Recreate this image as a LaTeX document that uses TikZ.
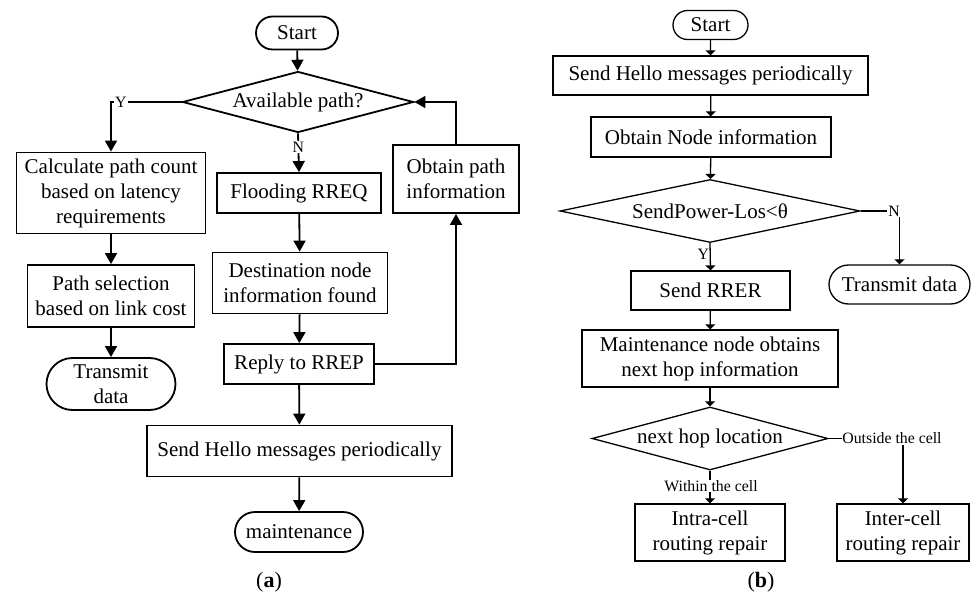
\documentclass[tikz,border=0pt]{standalone}
\usepackage{fontspec}
\setmainfont{Liberation Serif}
\usetikzlibrary{shapes,arrows.meta,positioning}

\begin{document}
\begin{tikzpicture}[x=1pt, y=-1pt,
    box/.style={draw, rectangle, align=center, inner sep=0pt, font=\fontsize{21}{25}\selectfont},
    term/.style={draw, rounded rectangle, align=center, inner sep=0pt, font=\fontsize{21}{25}\selectfont},
    decide/.style={draw, diamond, aspect=3.8, inner sep=0pt, font=\fontsize{21}{25}\selectfont},
    lbl/.style={fill=white, inner sep=1pt, font=\fontsize{15.8}{18}\selectfont},
    arra/.style={-{Triangle[length=11pt,width=12pt]}},
    arrb/.style={-{Triangle[length=5pt,width=10pt]}},
    subcap/.style={font=\fontsize{22}{25}\selectfont}
]
    \useasboundingbox (0,0) rectangle (971,599);

    % Flowchart (a): route discovery
    \begin{scope}[line width=1.8pt]
        \node[term, minimum width=82pt, minimum height=33pt] (startA) at (297,33) {Start};
        \node[decide, minimum width=231pt, minimum height=61pt] (avail) at (298,102) {Available path?};
        \node[box, minimum width=189pt, minimum height=81pt] (calc) at (111,193)
            {Calculate path count\\based on latency\\requirements};
        \node[box, minimum width=167pt, minimum height=62pt] (select) at (111,296)
            {Path selection\\based on link cost};
        \node[term, minimum width=129pt, minimum height=52pt] (sendA) at (111,384) {Transmit\\data};
        \node[box, minimum width=164pt, minimum height=40pt] (flood) at (299,193) {Flooding RREQ};
        \node[box, minimum width=175pt, minimum height=61pt] (dest) at (300,283)
            {Destination node\\information found};
        \node[box, minimum width=150pt, minimum height=40pt] (reply) at (299,364) {Reply to RREP};
        \node[box, minimum width=126pt, minimum height=68pt] (obtain) at (456,179)
            {Obtain path\\information};
        \node[box, minimum width=305pt, minimum height=51pt] (helloA) at (299.5,451)
            {Send Hello messages periodically};
        \node[term, minimum width=128pt, minimum height=40pt] (maint) at (299,532) {maintenance};

        \draw[arra] (startA) -- (avail);
        \draw[arra] (avail.west) -| node[lbl, pos=0.43] {Y} (calc.north);
        \draw[arra] (calc) -- (select);
        \draw[arra] (select) -- (sendA);
        \draw[arra] (avail.south) -- node[lbl, pos=0.35] {N} (flood.north);
        \draw[arra] (flood) -- (dest);
        \draw[arra] (dest) -- (reply);
        \draw[arra] (reply.east) -| (obtain.south);
        \draw[arra] (obtain.north) |- (avail.east);
        \draw[arra] (reply) -- (helloA);
        \draw[arra] (helloA) -- (maint);
    \end{scope}
    \node[subcap] (capA) at (269,582) {(\textbf{a})};

    % Flowchart (b): route maintenance
    \begin{scope}[line width=1.3pt]
        \node[term, minimum width=75pt, minimum height=29pt] (startB) at (710.5,25) {Start};
        \node[box, minimum width=315pt, minimum height=39pt] (helloB) at (710.5,75.5)
            {Send Hello messages periodically};
        \node[box, minimum width=240pt, minimum height=40pt] (nodeinfo) at (711,137)
            {Obtain Node information};
        \node[decide, minimum width=300pt, minimum height=63pt] (power) at (710,211)
            {SendPower-Los<θ};
        \node[term, minimum width=141pt, minimum height=39pt] (sendB) at (899.5,284.5) {Transmit data};
        \node[box, minimum width=159pt, minimum height=39pt] (rrer) at (710.5,290.5) {Send RRER};
        \node[box, minimum width=256pt, minimum height=57pt] (nexthop) at (710,358.5)
            {Maintenance node obtains\\next hop information};
        \node[decide, minimum width=236pt, minimum height=63pt] (loc) at (710,438.5)
            {next hop location};
        \node[box, minimum width=150pt, minimum height=57pt] (intra) at (710,532.5)
            {Intra-cell\\routing repair};
        \node[box, minimum width=132pt, minimum height=57pt] (inter) at (903,532.5)
            {Inter-cell\\routing repair};
        \node[lbl, inner sep=0pt] (within) at (711,486) {Within the cell};
        \node[lbl, inner sep=0pt] (outside) at (892,438.5) {Outside the cell};

        \draw[arrb] (startB) -- (helloB);
        \draw[arrb] (helloB) -- (nodeinfo);
        \draw[arrb] (nodeinfo) -- (power);
        \draw[arrb] (power.east) -| node[lbl, pos=0.43] {N} (sendB.north);
        \draw[arrb] (power.south) -- node[lbl, left, fill=none, inner sep=0.5pt, pos=0.4] {Y} (rrer.north);
        \draw[arrb] (rrer) -- (nexthop);
        \draw[arrb] (nexthop) -- (loc);
        \draw (loc.south) -- (within.north -| loc.south);
        \draw[arrb] (within.south -| intra.north) -- (intra.north);
        \draw (loc.east) -- (outside.west);
        \draw[arrb] (outside.south -| inter.north) -- (inter.north);
    \end{scope}
    \node[subcap] (capB) at (761,582) {(\textbf{b})};
\end{tikzpicture}
\end{document}
